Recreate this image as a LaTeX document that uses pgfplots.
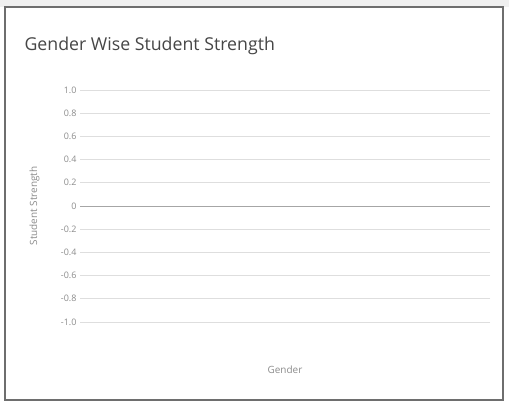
\documentclass[border=0pt]{standalone}
\usepackage{pgfplots}
\pgfplotsset{compat=1.18}
\usepackage{fontspec}
\setmainfont{Open Sans}
\definecolor{cardborder}{RGB}{110,110,110}
\definecolor{gridc}{RGB}{222,222,222}
\definecolor{tickc}{RGB}{140,140,140}
\definecolor{titlec}{RGB}{70,70,70}
\begin{document}
\begin{tikzpicture}[x=1bp,y=1bp]
\fill[white] (0,0) rectangle (509,405);
\fill[gray!12] (0,398) rectangle (509,405);
\draw[cardborder,line width=2bp] (5,5) rectangle (503,398);
\node[anchor=west,text=titlec,font=\fontsize{17.8}{20}\selectfont] at (21,359) {Gender Wise Student Strength};
\begin{axis}[
  at={(80bp,83bp)}, anchor=south west,
  scale only axis, width=410bp, height=232bp,
  xmin=0, xmax=1, ymin=-1, ymax=1,
  axis line style={draw=none},
  xtick=\empty,
  ytick={-1,-0.8,-0.6,-0.4,-0.2,0,0.2,0.4,0.6,0.8,1},
  yticklabels={-1.0,-0.8,-0.6,-0.4,-0.2,0,0.2,0.4,0.6,0.8,1.0},
  yticklabel style={text=tickc,font=\fontsize{9}{10}\selectfont},
  /pgf/number format/assume math mode=true,
  ymajorgrids, major grid style={gridc,line width=0.8bp},
  major tick length=6bp, tick style={gridc,line width=0.8bp},
  ylabel={Student Strength},
  ylabel style={text=tickc,font=\fontsize{10}{11}\selectfont, at={(-54bp,116bp)}, anchor=north},
  xlabel={Gender},
  xlabel style={text=tickc,font=\fontsize{10}{11}\selectfont, at={(205bp,-48bp)}, anchor=center},
  clip=false,
]
\addplot[draw=none] coordinates {(0,0)};
\draw[gray!70,line width=0.8bp] (axis cs:0,0) -- (axis cs:1,0);
\end{axis}
\end{tikzpicture}
\end{document}
